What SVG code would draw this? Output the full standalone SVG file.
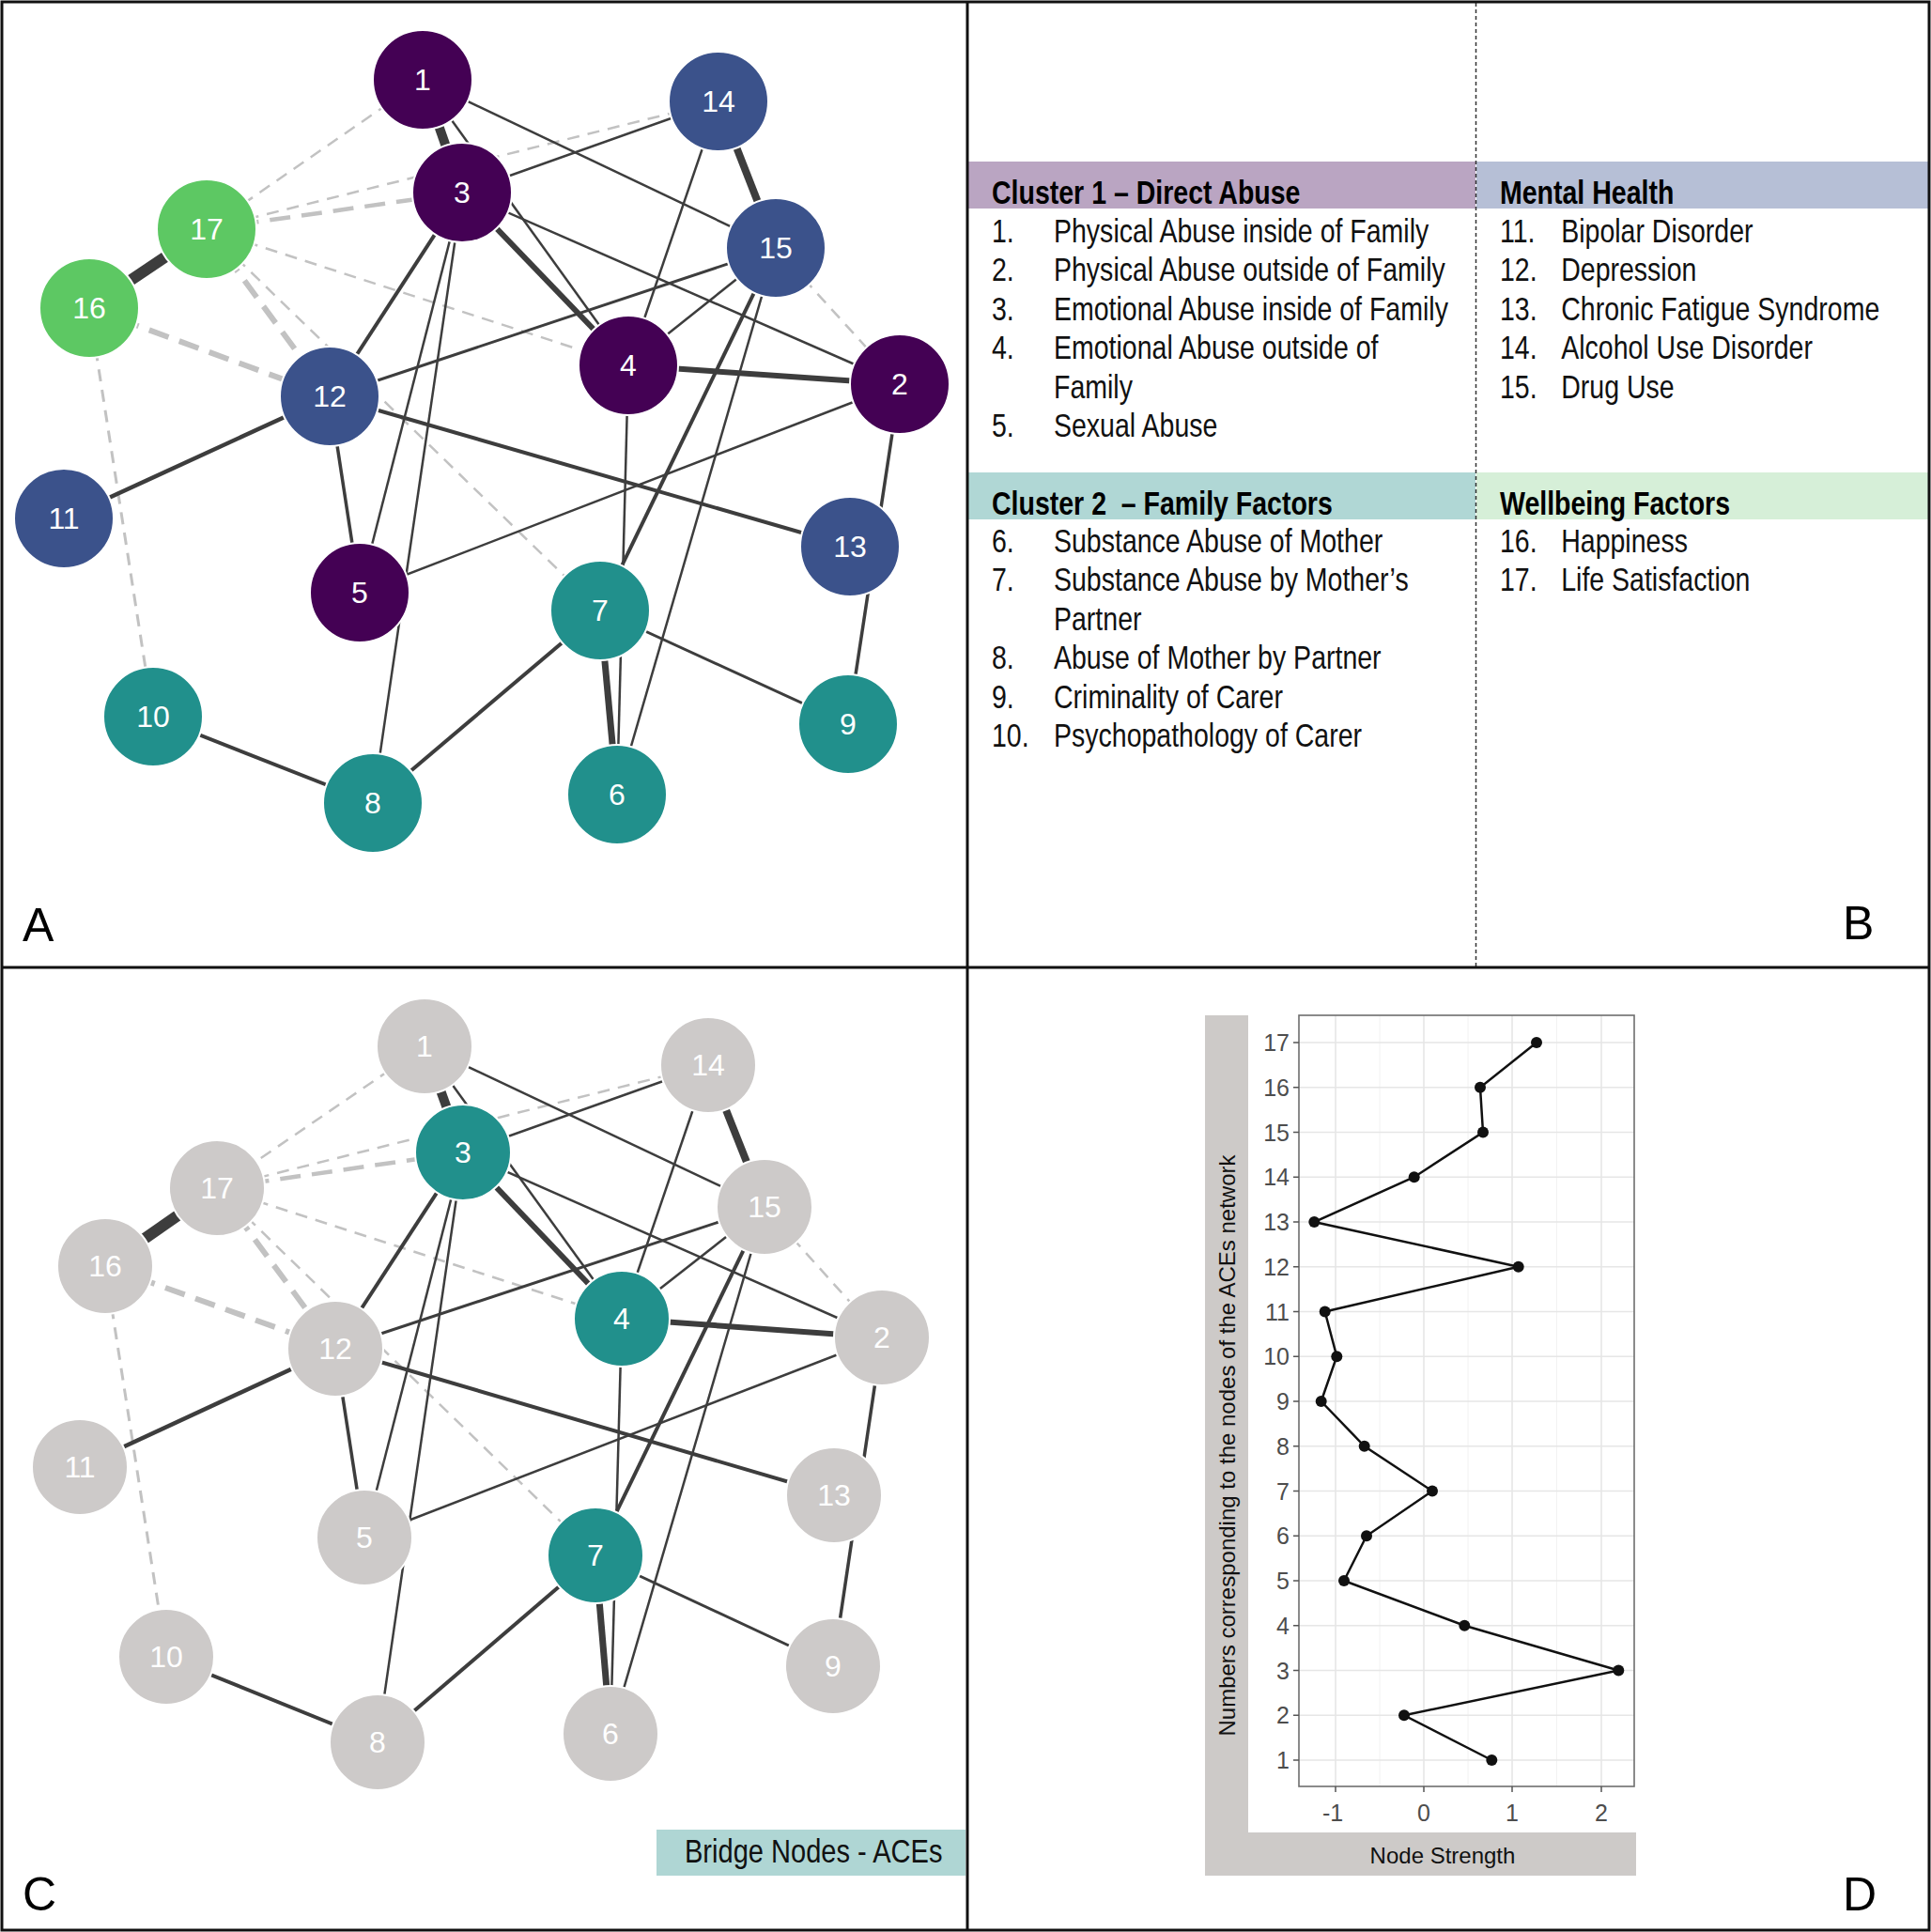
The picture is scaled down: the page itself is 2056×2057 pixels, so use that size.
<svg xmlns="http://www.w3.org/2000/svg" width="2056" height="2057" viewBox="0 0 2056 2057">
<style>
.s{stroke:#3d3d3d;fill:none}
.d{stroke:#c2c2c2;fill:none;stroke-dasharray:13 9}
.dk{stroke:#c2c2c2;fill:none;stroke-dasharray:22 12}
.pu{fill:#440154;stroke:#fff;stroke-width:2}
.bl{fill:#3b528b;stroke:#fff;stroke-width:2}
.te{fill:#21908c;stroke:#fff;stroke-width:2}
.gr{fill:#5dc863;stroke:#fff;stroke-width:2}
.gy{fill:#cdcac9;stroke:#fff;stroke-width:2}
.nl{font-family:"Liberation Sans",Arial,sans-serif;font-size:32px;fill:#fff;text-anchor:middle}
.pl{font-family:"Liberation Sans",Arial,sans-serif;font-size:50px;fill:#000}
.bt{font-family:"Liberation Sans",Arial,sans-serif;font-size:35px;fill:#111}
.bh{font-family:"Liberation Sans",Arial,sans-serif;font-size:35px;font-weight:bold;fill:#000}
.tk{font-family:"Liberation Sans",Arial,sans-serif;font-size:25px;fill:#4d4d4d}
.at{font-family:"Liberation Sans",Arial,sans-serif;font-size:24px;fill:#111}
.gmaj{stroke:#e6e6e6;stroke-width:1.6}
.gmin{stroke:#f2f2f2;stroke-width:1}
</style>
<rect x="0" y="0" width="2056" height="2057" fill="#fff"/>

<!-- Panel A edges -->
<g id="edges-A">
<line class="d" stroke-width="2.5" x1="450" y1="85" x2="220" y2="244"/>
<line class="d" stroke-width="2.5" x1="220" y1="244" x2="765" y2="108"/>
<line class="dk" stroke-width="4.5" x1="220" y1="244" x2="492" y2="205"/>
<line class="d" stroke-width="2.5" x1="220" y1="244" x2="669" y2="389"/>
<line class="dk" stroke-width="6" x1="220" y1="244" x2="351" y2="422"/>
<line class="d" stroke-width="2.5" x1="220" y1="244" x2="639" y2="650"/>
<line class="dk" stroke-width="6" x1="95" y1="328" x2="351" y2="422"/>
<line class="d" stroke-width="3" stroke="#b5b5b5" x1="95" y1="328" x2="163" y2="763"/>
<line class="d" stroke-width="2.5" x1="826" y1="264" x2="958" y2="409"/>
<line class="s" stroke-width="10" x1="450" y1="85" x2="492" y2="205"/>
<line class="s" stroke-width="2.5" x1="450" y1="85" x2="669" y2="389"/>
<line class="s" stroke-width="2.5" x1="450" y1="85" x2="826" y2="264"/>
<line class="s" stroke-width="2.5" x1="492" y1="205" x2="765" y2="108"/>
<line class="s" stroke-width="2.5" x1="492" y1="205" x2="958" y2="409"/>
<line class="s" stroke-width="4" x1="492" y1="205" x2="351" y2="422"/>
<line class="s" stroke-width="2.5" x1="492" y1="205" x2="383" y2="631"/>
<line class="s" stroke-width="2.5" x1="492" y1="205" x2="397" y2="855"/>
<line class="s" stroke-width="6" x1="492" y1="205" x2="669" y2="389"/>
<line class="s" stroke-width="8" x1="765" y1="108" x2="826" y2="264"/>
<line class="s" stroke-width="2.5" x1="765" y1="108" x2="669" y2="389"/>
<line class="s" stroke-width="3" x1="826" y1="264" x2="351" y2="422"/>
<line class="s" stroke-width="2.5" x1="826" y1="264" x2="669" y2="389"/>
<line class="s" stroke-width="4" x1="826" y1="264" x2="639" y2="650"/>
<line class="s" stroke-width="2.5" x1="826" y1="264" x2="657" y2="846"/>
<line class="s" stroke-width="6" x1="669" y1="389" x2="958" y2="409"/>
<line class="s" stroke-width="2.5" x1="669" y1="389" x2="657" y2="846"/>
<line class="s" stroke-width="2.5" x1="958" y1="409" x2="383" y2="631"/>
<line class="s" stroke-width="3.5" x1="958" y1="409" x2="903" y2="771"/>
<line class="s" stroke-width="4.5" x1="351" y1="422" x2="68" y2="552"/>
<line class="s" stroke-width="3.5" x1="351" y1="422" x2="383" y2="631"/>
<line class="s" stroke-width="4" x1="351" y1="422" x2="905" y2="582"/>
<line class="s" stroke-width="3" x1="639" y1="650" x2="903" y2="771"/>
<line class="s" stroke-width="4" x1="639" y1="650" x2="397" y2="855"/>
<line class="s" stroke-width="7" x1="639" y1="650" x2="657" y2="846"/>
<line class="s" stroke-width="4" x1="163" y1="763" x2="397" y2="855"/>
<line class="s" stroke-width="12" x1="95" y1="328" x2="220" y2="244"/>
</g>

<!-- Panel A nodes -->
<g id="A-n1"><circle class="pu" cx="450" cy="85" r="53"/><text class="nl" x="450" y="96">1</text></g>
<g id="A-n2"><circle class="pu" cx="958" cy="409" r="53"/><text class="nl" x="958" y="420">2</text></g>
<g id="A-n3"><circle class="pu" cx="492" cy="205" r="53"/><text class="nl" x="492" y="216">3</text></g>
<g id="A-n4"><circle class="pu" cx="669" cy="389" r="53"/><text class="nl" x="669" y="400">4</text></g>
<g id="A-n5"><circle class="pu" cx="383" cy="631" r="53"/><text class="nl" x="383" y="642">5</text></g>
<g id="A-n6"><circle class="te" cx="657" cy="846" r="53"/><text class="nl" x="657" y="857">6</text></g>
<g id="A-n7"><circle class="te" cx="639" cy="650" r="53"/><text class="nl" x="639" y="661">7</text></g>
<g id="A-n8"><circle class="te" cx="397" cy="855" r="53"/><text class="nl" x="397" y="866">8</text></g>
<g id="A-n9"><circle class="te" cx="903" cy="771" r="53"/><text class="nl" x="903" y="782">9</text></g>
<g id="A-n10"><circle class="te" cx="163" cy="763" r="53"/><text class="nl" x="163" y="774">10</text></g>
<g id="A-n11"><circle class="bl" cx="68" cy="552" r="53"/><text class="nl" x="68" y="563">11</text></g>
<g id="A-n12"><circle class="bl" cx="351" cy="422" r="53"/><text class="nl" x="351" y="433">12</text></g>
<g id="A-n13"><circle class="bl" cx="905" cy="582" r="53"/><text class="nl" x="905" y="593">13</text></g>
<g id="A-n14"><circle class="bl" cx="765" cy="108" r="53"/><text class="nl" x="765" y="119">14</text></g>
<g id="A-n15"><circle class="bl" cx="826" cy="264" r="53"/><text class="nl" x="826" y="275">15</text></g>
<g id="A-n16"><circle class="gr" cx="95" cy="328" r="53"/><text class="nl" x="95" y="339">16</text></g>
<g id="A-n17"><circle class="gr" cx="220" cy="244" r="53"/><text class="nl" x="220" y="255">17</text></g>

<!-- Panel C edges -->
<g id="edges-C">
<line class="d" stroke-width="2.5" x1="452" y1="1114" x2="231" y2="1265"/>
<line class="d" stroke-width="2.5" x1="231" y1="1265" x2="754" y2="1134"/>
<line class="dk" stroke-width="4.5" x1="231" y1="1265" x2="493" y2="1227"/>
<line class="d" stroke-width="2.5" x1="231" y1="1265" x2="662" y2="1404"/>
<line class="dk" stroke-width="6" x1="231" y1="1265" x2="357" y2="1436"/>
<line class="d" stroke-width="2.5" x1="231" y1="1265" x2="634" y2="1656"/>
<line class="dk" stroke-width="6" x1="112" y1="1348" x2="357" y2="1436"/>
<line class="d" stroke-width="3" stroke="#b5b5b5" x1="112" y1="1348" x2="177" y2="1764"/>
<line class="d" stroke-width="2.5" x1="814" y1="1285" x2="939" y2="1424"/>
<line class="s" stroke-width="10" x1="452" y1="1114" x2="493" y2="1227"/>
<line class="s" stroke-width="2.5" x1="452" y1="1114" x2="662" y2="1404"/>
<line class="s" stroke-width="2.5" x1="452" y1="1114" x2="814" y2="1285"/>
<line class="s" stroke-width="2.5" x1="493" y1="1227" x2="754" y2="1134"/>
<line class="s" stroke-width="2.5" x1="493" y1="1227" x2="939" y2="1424"/>
<line class="s" stroke-width="4" x1="493" y1="1227" x2="357" y2="1436"/>
<line class="s" stroke-width="2.5" x1="493" y1="1227" x2="388" y2="1637"/>
<line class="s" stroke-width="2.5" x1="493" y1="1227" x2="402" y2="1855"/>
<line class="s" stroke-width="6" x1="493" y1="1227" x2="662" y2="1404"/>
<line class="s" stroke-width="8" x1="754" y1="1134" x2="814" y2="1285"/>
<line class="s" stroke-width="2.5" x1="754" y1="1134" x2="662" y2="1404"/>
<line class="s" stroke-width="3" x1="814" y1="1285" x2="357" y2="1436"/>
<line class="s" stroke-width="2.5" x1="814" y1="1285" x2="662" y2="1404"/>
<line class="s" stroke-width="4" x1="814" y1="1285" x2="634" y2="1656"/>
<line class="s" stroke-width="2.5" x1="814" y1="1285" x2="650" y2="1846"/>
<line class="s" stroke-width="6" x1="662" y1="1404" x2="939" y2="1424"/>
<line class="s" stroke-width="2.5" x1="662" y1="1404" x2="650" y2="1846"/>
<line class="s" stroke-width="2.5" x1="939" y1="1424" x2="388" y2="1637"/>
<line class="s" stroke-width="3.5" x1="939" y1="1424" x2="887" y2="1774"/>
<line class="s" stroke-width="4.5" x1="357" y1="1436" x2="85" y2="1562"/>
<line class="s" stroke-width="3.5" x1="357" y1="1436" x2="388" y2="1637"/>
<line class="s" stroke-width="4" x1="357" y1="1436" x2="888" y2="1592"/>
<line class="s" stroke-width="3" x1="634" y1="1656" x2="887" y2="1774"/>
<line class="s" stroke-width="4" x1="634" y1="1656" x2="402" y2="1855"/>
<line class="s" stroke-width="7" x1="634" y1="1656" x2="650" y2="1846"/>
<line class="s" stroke-width="4" x1="177" y1="1764" x2="402" y2="1855"/>
<line class="s" stroke-width="12" x1="112" y1="1348" x2="231" y2="1265"/>
</g>

<!-- Panel C nodes -->
<g id="C-n1"><circle class="gy" cx="452" cy="1114" r="51"/><text class="nl" x="452" y="1125">1</text></g>
<g id="C-n2"><circle class="gy" cx="939" cy="1424" r="51"/><text class="nl" x="939" y="1435">2</text></g>
<g id="C-n3"><circle class="te" cx="493" cy="1227" r="51"/><text class="nl" x="493" y="1238">3</text></g>
<g id="C-n4"><circle class="te" cx="662" cy="1404" r="51"/><text class="nl" x="662" y="1415">4</text></g>
<g id="C-n5"><circle class="gy" cx="388" cy="1637" r="51"/><text class="nl" x="388" y="1648">5</text></g>
<g id="C-n6"><circle class="gy" cx="650" cy="1846" r="51"/><text class="nl" x="650" y="1857">6</text></g>
<g id="C-n7"><circle class="te" cx="634" cy="1656" r="51"/><text class="nl" x="634" y="1667">7</text></g>
<g id="C-n8"><circle class="gy" cx="402" cy="1855" r="51"/><text class="nl" x="402" y="1866">8</text></g>
<g id="C-n9"><circle class="gy" cx="887" cy="1774" r="51"/><text class="nl" x="887" y="1785">9</text></g>
<g id="C-n10"><circle class="gy" cx="177" cy="1764" r="51"/><text class="nl" x="177" y="1775">10</text></g>
<g id="C-n11"><circle class="gy" cx="85" cy="1562" r="51"/><text class="nl" x="85" y="1573">11</text></g>
<g id="C-n12"><circle class="gy" cx="357" cy="1436" r="51"/><text class="nl" x="357" y="1447">12</text></g>
<g id="C-n13"><circle class="gy" cx="888" cy="1592" r="51"/><text class="nl" x="888" y="1603">13</text></g>
<g id="C-n14"><circle class="gy" cx="754" cy="1134" r="51"/><text class="nl" x="754" y="1145">14</text></g>
<g id="C-n15"><circle class="gy" cx="814" cy="1285" r="51"/><text class="nl" x="814" y="1296">15</text></g>
<g id="C-n16"><circle class="gy" cx="112" cy="1348" r="51"/><text class="nl" x="112" y="1359">16</text></g>
<g id="C-n17"><circle class="gy" cx="231" cy="1265" r="51"/><text class="nl" x="231" y="1276">17</text></g>

<!-- Bridge nodes legend -->
<g id="bridge-legend">
<rect x="699" y="1948" width="329" height="49" fill="#afd6d4"/>
<text class="bt" transform="translate(729,1983) scale(0.83,1)" font-size="34">Bridge Nodes - ACEs</text>
</g>

<!-- Panel B -->
<g id="panel-B">
<rect x="1030" y="172" width="541" height="50" fill="#baa5c2"/>
<rect x="1572" y="172" width="482" height="50" fill="#b6bfd6"/>
<rect x="1030" y="503" width="541" height="50" fill="#b0d7d5"/>
<rect x="1572" y="503" width="482" height="50" fill="#d6efd8"/>
<line x1="1571.5" y1="3" x2="1571.5" y2="1030" stroke="#333" stroke-width="1.5" stroke-dasharray="4 3"/>
<g transform="translate(1056,0) scale(0.815,1)">
<text class="bh" x="0" y="217">Cluster 1 – Direct Abuse</text>
<text class="bt" x="0" y="258">1.</text><text class="bt" x="81" y="258">Physical Abuse inside of Family</text>
<text class="bt" x="0" y="299.5">2.</text><text class="bt" x="81" y="299.5">Physical Abuse outside of Family</text>
<text class="bt" x="0" y="341">3.</text><text class="bt" x="81" y="341">Emotional Abuse inside of Family</text>
<text class="bt" x="0" y="382.5">4.</text><text class="bt" x="81" y="382.5">Emotional Abuse outside of</text>
<text class="bt" x="81" y="424">Family</text>
<text class="bt" x="0" y="465.5">5.</text><text class="bt" x="81" y="465.5">Sexual Abuse</text>
<text class="bh" x="0" y="548" xml:space="preserve">Cluster 2  – Family Factors</text>
<text class="bt" x="0" y="588">6.</text><text class="bt" x="81" y="588">Substance Abuse of Mother</text>
<text class="bt" x="0" y="629.5">7.</text><text class="bt" x="81" y="629.5">Substance Abuse by Mother’s</text>
<text class="bt" x="81" y="671">Partner</text>
<text class="bt" x="0" y="712.5">8.</text><text class="bt" x="81" y="712.5">Abuse of Mother by Partner</text>
<text class="bt" x="0" y="754">9.</text><text class="bt" x="81" y="754">Criminality of Carer</text>
<text class="bt" x="0" y="795.5">10.</text><text class="bt" x="81" y="795.5">Psychopathology of Carer</text>
</g>
<g transform="translate(1597,0) scale(0.815,1)">
<text class="bh" x="0" y="217">Mental Health</text>
<text class="bt" x="0" y="258">11.</text><text class="bt" x="80" y="258">Bipolar Disorder</text>
<text class="bt" x="0" y="299.5">12.</text><text class="bt" x="80" y="299.5">Depression</text>
<text class="bt" x="0" y="341">13.</text><text class="bt" x="80" y="341">Chronic Fatigue Syndrome</text>
<text class="bt" x="0" y="382.5">14.</text><text class="bt" x="80" y="382.5">Alcohol Use Disorder</text>
<text class="bt" x="0" y="424">15.</text><text class="bt" x="80" y="424">Drug Use</text>
<text class="bh" x="0" y="548">Wellbeing Factors</text>
<text class="bt" x="0" y="588">16.</text><text class="bt" x="80" y="588">Happiness</text>
<text class="bt" x="0" y="629.5">17.</text><text class="bt" x="80" y="629.5">Life Satisfaction</text>
</g>
</g>

<!-- Panel D -->
<g id="panel-D">
<rect x="1283" y="1081" width="46" height="916" fill="#cdcac8"/>
<rect x="1283" y="1951" width="459" height="46" fill="#cdcac8"/>
<rect x="1383" y="1081" width="357" height="821" fill="#fff"/>
<g id="grid">
<line class="gmin" x1="1469" y1="1081" x2="1469" y2="1902"/>
<line class="gmin" x1="1563" y1="1081" x2="1563" y2="1902"/>
<line class="gmin" x1="1657.5" y1="1081" x2="1657.5" y2="1902"/>
<line class="gmaj" x1="1422" y1="1081" x2="1422" y2="1902"/>
<line class="gmaj" x1="1516" y1="1081" x2="1516" y2="1902"/>
<line class="gmaj" x1="1610" y1="1081" x2="1610" y2="1902"/>
<line class="gmaj" x1="1705" y1="1081" x2="1705" y2="1902"/>
<line class="gmaj" x1="1383" y1="1110" x2="1740" y2="1110"/>
<line class="gmaj" x1="1383" y1="1157.75" x2="1740" y2="1157.75"/>
<line class="gmaj" x1="1383" y1="1205.5" x2="1740" y2="1205.5"/>
<line class="gmaj" x1="1383" y1="1253.25" x2="1740" y2="1253.25"/>
<line class="gmaj" x1="1383" y1="1301" x2="1740" y2="1301"/>
<line class="gmaj" x1="1383" y1="1348.75" x2="1740" y2="1348.75"/>
<line class="gmaj" x1="1383" y1="1396.5" x2="1740" y2="1396.5"/>
<line class="gmaj" x1="1383" y1="1444.25" x2="1740" y2="1444.25"/>
<line class="gmaj" x1="1383" y1="1492" x2="1740" y2="1492"/>
<line class="gmaj" x1="1383" y1="1539.75" x2="1740" y2="1539.75"/>
<line class="gmaj" x1="1383" y1="1587.5" x2="1740" y2="1587.5"/>
<line class="gmaj" x1="1383" y1="1635.25" x2="1740" y2="1635.25"/>
<line class="gmaj" x1="1383" y1="1683" x2="1740" y2="1683"/>
<line class="gmaj" x1="1383" y1="1730.75" x2="1740" y2="1730.75"/>
<line class="gmaj" x1="1383" y1="1778.5" x2="1740" y2="1778.5"/>
<line class="gmaj" x1="1383" y1="1826.25" x2="1740" y2="1826.25"/>
<line class="gmaj" x1="1383" y1="1874" x2="1740" y2="1874"/>
</g>
<rect x="1383" y="1081" width="357" height="821" fill="none" stroke="#6e6e6e" stroke-width="1.6"/>
<g id="ticks" stroke="#555" stroke-width="1.5">
<line x1="1377" y1="1110" x2="1383" y2="1110"/><line x1="1377" y1="1157.75" x2="1383" y2="1157.75"/>
<line x1="1377" y1="1205.5" x2="1383" y2="1205.5"/><line x1="1377" y1="1253.25" x2="1383" y2="1253.25"/>
<line x1="1377" y1="1301" x2="1383" y2="1301"/><line x1="1377" y1="1348.75" x2="1383" y2="1348.75"/>
<line x1="1377" y1="1396.5" x2="1383" y2="1396.5"/><line x1="1377" y1="1444.25" x2="1383" y2="1444.25"/>
<line x1="1377" y1="1492" x2="1383" y2="1492"/><line x1="1377" y1="1539.75" x2="1383" y2="1539.75"/>
<line x1="1377" y1="1587.5" x2="1383" y2="1587.5"/><line x1="1377" y1="1635.25" x2="1383" y2="1635.25"/>
<line x1="1377" y1="1683" x2="1383" y2="1683"/><line x1="1377" y1="1730.75" x2="1383" y2="1730.75"/>
<line x1="1377" y1="1778.5" x2="1383" y2="1778.5"/><line x1="1377" y1="1826.25" x2="1383" y2="1826.25"/>
<line x1="1377" y1="1874" x2="1383" y2="1874"/>
<line x1="1422" y1="1902" x2="1422" y2="1908"/><line x1="1516" y1="1902" x2="1516" y2="1908"/>
<line x1="1610" y1="1902" x2="1610" y2="1908"/><line x1="1705" y1="1902" x2="1705" y2="1908"/>
</g>
<g id="ytick-labels" text-anchor="end">
<text class="tk" x="1373" y="1119">17</text>
<text class="tk" x="1373" y="1166.75">16</text>
<text class="tk" x="1373" y="1214.5">15</text>
<text class="tk" x="1373" y="1262.25">14</text>
<text class="tk" x="1373" y="1310">13</text>
<text class="tk" x="1373" y="1357.75">12</text>
<text class="tk" x="1373" y="1405.5">11</text>
<text class="tk" x="1373" y="1453.25">10</text>
<text class="tk" x="1373" y="1501">9</text>
<text class="tk" x="1373" y="1548.75">8</text>
<text class="tk" x="1373" y="1596.5">7</text>
<text class="tk" x="1373" y="1644.25">6</text>
<text class="tk" x="1373" y="1692">5</text>
<text class="tk" x="1373" y="1739.75">4</text>
<text class="tk" x="1373" y="1787.5">3</text>
<text class="tk" x="1373" y="1835.25">2</text>
<text class="tk" x="1373" y="1883">1</text>
</g>
<g id="xtick-labels" text-anchor="middle">
<text class="tk" x="1419" y="1939">-1</text>
<text class="tk" x="1516" y="1939">0</text>
<text class="tk" x="1610" y="1939">1</text>
<text class="tk" x="1705" y="1939">2</text>
</g>
<text class="at" x="1536" y="1984" text-anchor="middle">Node Strength</text>
<text class="at" transform="translate(1315,1539) rotate(-90)" text-anchor="middle">Numbers corresponding to the nodes of the ACEs network</text>
<polyline fill="none" stroke="#111" stroke-width="2.5" points="1588.3,1874 1495,1826.25 1723.3,1778.5 1559.3,1730.75 1431,1683 1455,1635.25 1525,1587.5 1452.7,1539.75 1406.7,1492 1423.3,1444.25 1410.7,1396.5 1616.7,1348.75 1399.3,1301 1505.7,1253.25 1579,1205.5 1576,1157.75 1636,1110"/>
<g id="points" fill="#111">
<circle cx="1588.3" cy="1874" r="6"/><circle cx="1495" cy="1826.25" r="6"/>
<circle cx="1723.3" cy="1778.5" r="6"/><circle cx="1559.3" cy="1730.75" r="6"/>
<circle cx="1431" cy="1683" r="6"/><circle cx="1455" cy="1635.25" r="6"/>
<circle cx="1525" cy="1587.5" r="6"/><circle cx="1452.7" cy="1539.75" r="6"/>
<circle cx="1406.7" cy="1492" r="6"/><circle cx="1423.3" cy="1444.25" r="6"/>
<circle cx="1410.7" cy="1396.5" r="6"/><circle cx="1616.7" cy="1348.75" r="6"/>
<circle cx="1399.3" cy="1301" r="6"/><circle cx="1505.7" cy="1253.25" r="6"/>
<circle cx="1579" cy="1205.5" r="6"/><circle cx="1576" cy="1157.75" r="6"/>
<circle cx="1636" cy="1110" r="6"/>
</g>
</g>

<!-- Panel letters -->
<text class="pl" x="24" y="1002">A</text>
<text class="pl" x="1962" y="1000">B</text>
<text class="pl" x="24" y="2034">C</text>
<text class="pl" x="1962" y="2034">D</text>

<!-- Frame -->
<g id="frame" fill="none" stroke="#111" stroke-width="3">
<rect x="2" y="2" width="2052" height="2053"/>
<line x1="1030" y1="2" x2="1030" y2="2055"/>
<line x1="2" y1="1030" x2="2054" y2="1030"/>
</g>
</svg>
